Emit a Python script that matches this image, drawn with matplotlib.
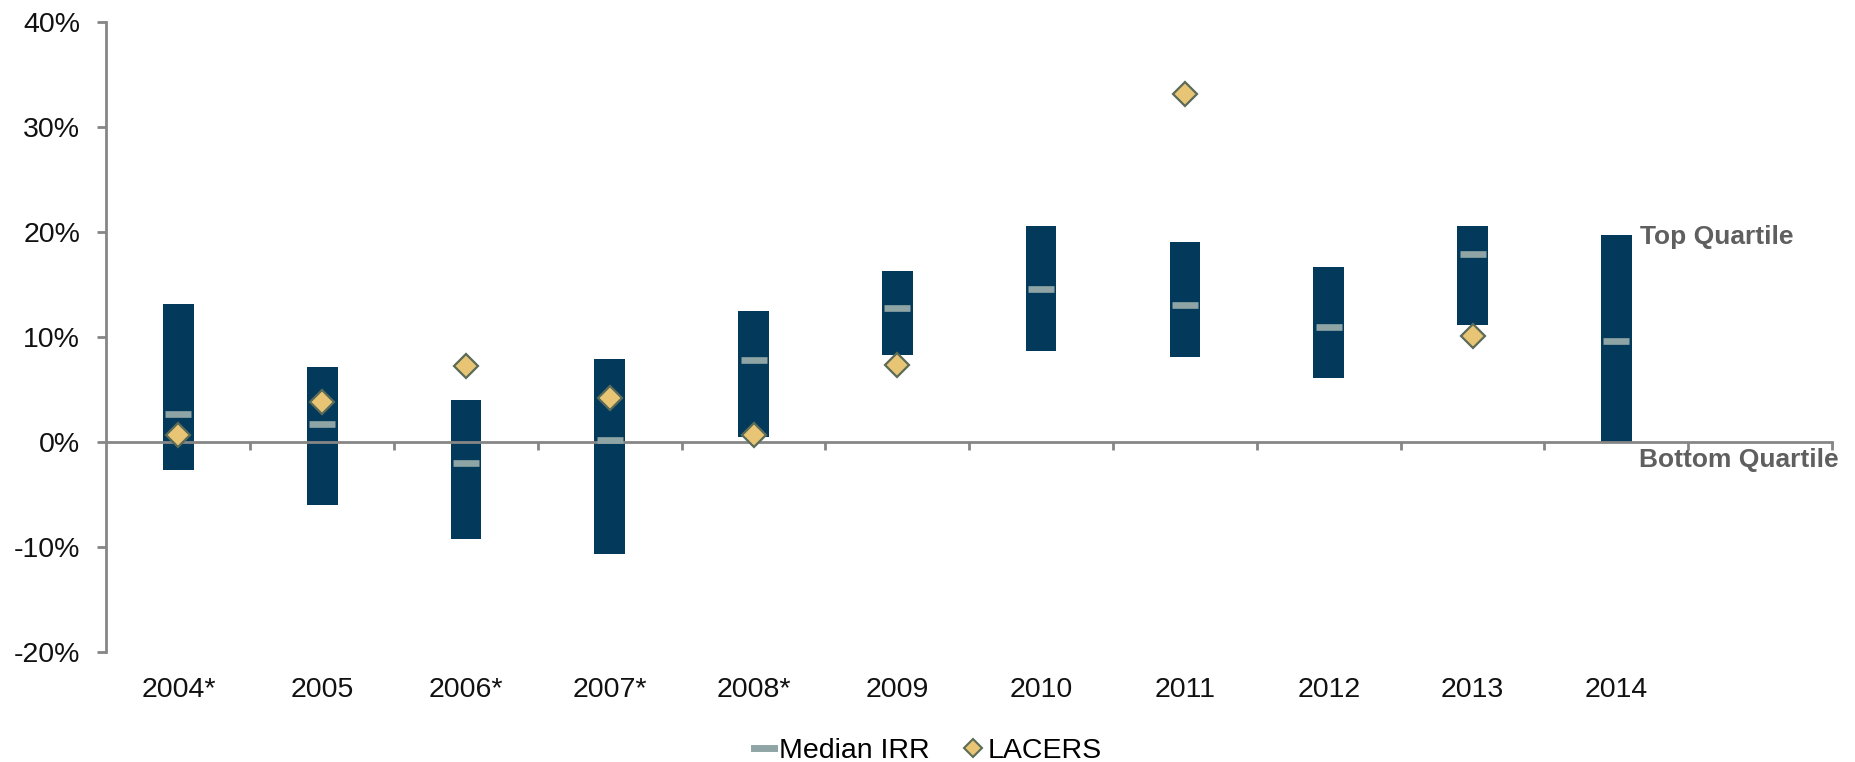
import matplotlib
matplotlib.use("Agg")
import matplotlib.pyplot as plt
from matplotlib.lines import Line2D
from matplotlib.ticker import FuncFormatter, FixedLocator

# ---- data (percent) ----
years = ["2004*", "2005", "2006*", "2007*", "2008*", "2009", "2010", "2011", "2012", "2013", "2014"]
top_quartile = [13.2, 7.2, 4.0, 7.9, 12.5, 16.3, 20.6, 19.1, 16.7, 20.6, 19.7]
bottom_quartile = [-2.7, -6.0, -9.2, -10.7, 0.45, 8.3, 8.7, 8.1, 6.1, 11.2, 0.0]
median_irr = [2.7, 1.7, -2.0, 0.25, 7.8, 12.8, 14.6, 13.1, 11.0, 17.9, 9.6]
lacers_x = ["2004*", "2005", "2006*", "2007*", "2008*", "2009", "2011", "2013"]
lacers = [0.7, 3.8, 7.3, 4.2, 0.7, 7.4, 33.2, 10.1]
n_slots = 12
yticks = [-20, -10, 0, 10, 20, 30, 40]

# ---- style ----
plt.rcParams['font.family'] = ['Liberation Sans', 'DejaVu Sans']
bar_color = "#033a5c"
median_color = "#8fa5a5"
diamond_fill = "#e8c574"
diamond_edge = "#5b6b57"
axis_color = "#868686"
note_color = "#5f5f5f"
fs = 20.5

fig = plt.figure(figsize=(18.56, 7.62), dpi=100)
ax = fig.add_axes([106.5 / 1856, 1 - 652 / 762, (1832 - 106.5) / 1856, (652 - 22.5) / 762])

xpos = list(range(len(years)))
heights = [t - b for t, b in zip(top_quartile, bottom_quartile)]
ax.bar(xpos, heights, bottom=bottom_quartile, width=0.2135, color=bar_color, zorder=2)

ax.plot(xpos, median_irr, linestyle="none", marker="_", markersize=18.5,
        markeredgewidth=4.8, color=median_color, zorder=3)

lx = [years.index(y) for y in lacers_x]
ax.plot(lx, lacers, linestyle="none", marker="D", markersize=12.2,
        markerfacecolor=diamond_fill, markeredgecolor=diamond_edge,
        markeredgewidth=1.6, zorder=4)

ax.set_xlim(-0.5, n_slots - 0.5)
ax.set_ylim(-20, 40)

for s in ["top", "right"]:
    ax.spines[s].set_visible(False)
ax.spines["bottom"].set_position(("data", 0))
for s in ["left", "bottom"]:
    ax.spines[s].set_color(axis_color)
    ax.spines[s].set_linewidth(2.0)

ax.yaxis.set_major_locator(FixedLocator(yticks))
ax.yaxis.set_major_formatter(FuncFormatter(lambda v, p: f"{v:.0f}%"))
ax.tick_params(axis="y", direction="out", length=6.5, width=2.0, color=axis_color,
               labelsize=fs, pad=12.5, labelcolor="#111111")

ax.xaxis.set_major_locator(FixedLocator([i + 0.5 for i in range(n_slots)]))
ax.xaxis.set_major_formatter(FuncFormatter(lambda v, p: ""))
ax.tick_params(axis="x", direction="out", length=6, width=2.0, color=axis_color)

for i, yl in enumerate(years):
    ax.text(i, -0.072, yl, transform=ax.get_xaxis_transform(), ha="center",
            va="baseline", fontsize=fs, color="#111111")

ax.text(len(years) - 1 + 0.215 / 2 + 0.06, 19.6, "Top Quartile", fontsize=19,
        fontweight="bold", color=note_color, ha="left", va="center")
ax.text(len(years) - 1 + 0.215 / 2 + 0.05, -1.7, "Bottom Quartile", fontsize=19,
        fontweight="bold", color=note_color, ha="left", va="center")

handles = [
    Line2D([], [], color=median_color, lw=5),
    Line2D([], [], linestyle="none", marker="D", markersize=9,
           markerfacecolor=diamond_fill, markeredgecolor=diamond_edge, markeredgewidth=1.5),
]
fig.legend(handles, ["Median IRR", "LACERS"], loc="lower center",
           bbox_to_anchor=(0.5, -0.036), ncol=2, frameon=False, fontsize=fs,
           handlelength=0.7, handletextpad=0.15, columnspacing=1.2)

fig.savefig("out.png", dpi=100)
